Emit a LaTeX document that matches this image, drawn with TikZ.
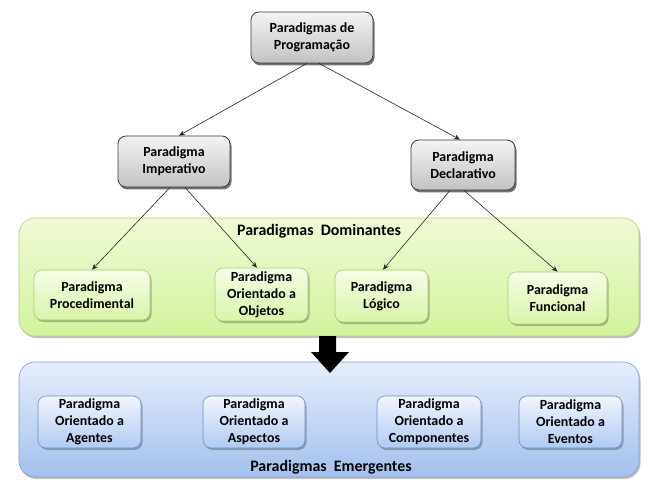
\documentclass[tikz,border=0pt]{standalone}
\usepackage{fontspec}
\setmainfont{Carlito}
\usetikzlibrary{arrows.meta,shadows,calc}
\definecolor{grayTop}{HTML}{F4F4F4}
\definecolor{grayBot}{HTML}{C2C2C2}
\definecolor{grayLine}{HTML}{3A3A3A}
\definecolor{gcTop}{HTML}{F0FAD6}
\definecolor{gcBot}{HTML}{D2F39C}
\definecolor{gcLine}{HTML}{B2D282}
\definecolor{giTop}{HTML}{F6FDE6}
\definecolor{giBot}{HTML}{D9F4AA}
\definecolor{giLine}{HTML}{A8C97A}
\definecolor{bcTop}{HTML}{E6EEFB}
\definecolor{bcBot}{HTML}{A3C0EE}
\definecolor{bcLine}{HTML}{7E9FD3}
\definecolor{biTop}{HTML}{F2F6FD}
\definecolor{biBot}{HTML}{B1CAF2}
\definecolor{biLine}{HTML}{6F8FC5}
\tikzset{
  txt/.style={font=\fontsize{14}{17}\selectfont\bfseries, align=center, text=black, inner sep=0pt},
  graybox/.style={txt, draw=grayLine, line width=0.8bp, rounded corners=8bp,
    top color=grayTop, bottom color=grayBot,
    drop shadow={shadow xshift=1.5bp, shadow yshift=-2.5bp, opacity=0.55, fill=black}},
  greenbox/.style={txt, draw=giLine, line width=0.6bp, rounded corners=8bp,
    top color=giTop, bottom color=giBot,
    drop shadow={shadow xshift=1.5bp, shadow yshift=-2bp, opacity=0.25, fill=black}},
  bluebox/.style={txt, draw=biLine, line width=0.6bp, rounded corners=8bp,
    top color=biTop, bottom color=biBot,
    drop shadow={shadow xshift=1.5bp, shadow yshift=-2bp, opacity=0.25, fill=black}},
  greencont/.style={draw=gcLine, line width=0.6bp, rounded corners=16bp,
    top color=gcTop, bottom color=gcBot, inner sep=0pt,
    drop shadow={shadow xshift=1.5bp, shadow yshift=-2bp, opacity=0.25, fill=black}},
  bluecont/.style={draw=bcLine, line width=0.6bp, rounded corners=16bp,
    top color=bcTop, bottom color=bcBot, inner sep=0pt,
    drop shadow={shadow xshift=1.5bp, shadow yshift=-2bp, opacity=0.25, fill=black}},
  title/.style={font=\fontsize{16}{19}\selectfont\bfseries, text=black, inner sep=0pt},
  conn/.style={draw=black!85, line width=0.6bp, -{Stealth[length=6bp,width=5bp]}},
}
\begin{document}
\begin{tikzpicture}[x=1bp,y=-1bp]
\useasboundingbox (0,0) rectangle (655,488);
% containers
\node[greencont, minimum width=620bp, minimum height=118bp] (green) at (329,277) {};
\node[bluecont, minimum width=620bp, minimum height=115bp] (blue) at (329,419.5) {};
\node[title] (tdom) at (319,231) {Paradigmas\hspace{0.45em}Dominantes};
\node[title] (temer) at (331,467) {Paradigmas\hspace{0.45em}Emergentes};
% big arrow
\fill[black] (319,336) -- (336,336) -- (336,352) -- (349,352) -- (330,373) -- (311,352) -- (319,352) -- cycle;
% top level
\node[graybox, minimum width=122bp, minimum height=51bp] (top) at (312,37.5) {Paradigmas de\\Programação};
\node[graybox, minimum width=112bp, minimum height=51bp] (imp) at (174,161.5) {Paradigma\\Imperativo};
\node[graybox, minimum width=104bp, minimum height=50bp] (dec) at (463,165) {Paradigma\\Declarativo};
% dominant
\node[greenbox, minimum width=116bp, minimum height=50bp] (proc) at (92,295) {Paradigma\\Procedimental};
\node[greenbox, minimum width=93bp, minimum height=53bp] (obj) at (261.5,294.5) {Paradigma\\Orientado a\\Objetos};
\node[greenbox, minimum width=93bp, minimum height=52bp] (log) at (381.5,296) {Paradigma\\Lógico};
\node[greenbox, minimum width=99bp, minimum height=52bp] (fun) at (557.5,298) {Paradigma\\Funcional};
% emergent
\node[bluebox, minimum width=103bp, minimum height=52bp] (age) at (89.5,422) {Paradigma\\Orientado a\\Agentes};
\node[bluebox, minimum width=102bp, minimum height=52bp] (asp) at (254,422) {Paradigma\\Orientado a\\Aspectos};
\node[bluebox, minimum width=104bp, minimum height=52bp] (comp) at (429,422) {Paradigma\\Orientado a\\Componentes};
\node[bluebox, minimum width=103bp, minimum height=52bp] (eve) at (570.5,422) {Paradigma\\Orientado a\\Eventos};
% connectors
\draw[conn] ($(top.south)+(-5,0)$) -- ($(imp.north)+(5,0)$);
\draw[conn] ($(top.south)+(7,0)$) -- ($(dec.north)+(-3,0)$);
\draw[conn] ($(imp.south)+(-4,0)$) -- (proc.north);
\draw[conn] ($(imp.south)+(11,0)$) -- ($(obj.north)+(-4.5,0)$);
\draw[conn] ($(dec.south)+(-13,0)$) -- ($(log.north)+(1.5,0)$);
\draw[conn] ($(dec.south)+(1,0)$) -- (fun.north);
\end{tikzpicture}
\end{document}
